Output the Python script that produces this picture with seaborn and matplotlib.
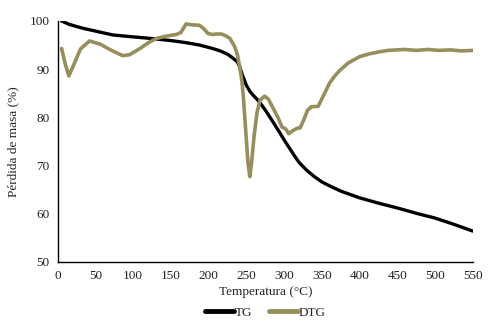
import matplotlib
matplotlib.use("Agg")
import matplotlib.pyplot as plt
import seaborn as sns
import pandas as pd

# TG curve (mass loss)
tg_temp = [5, 15, 33, 50, 73, 100, 122, 152, 170, 188, 205, 215, 225, 232, 238, 241, 245, 250,
           255, 260, 265, 270, 275, 285, 295, 300, 305, 310, 315, 320, 330, 340, 350, 360, 375, 400,
           425, 450, 475, 500, 525, 550]
tg_mass = [100, 99.3, 98.5, 97.9, 97.1, 96.7, 96.4, 95.9, 95.5, 95.0, 94.3, 93.8, 93.1, 92.3, 91.5, 90.5, 88.6, 86.6,
           85.3, 84.4, 83.6, 82.6, 81.5, 79.1, 76.6, 75.3, 74.1, 72.9, 71.7, 70.6, 69.0, 67.7, 66.6, 65.8, 64.7, 63.3,
           62.2, 61.2, 60.1, 59.1, 57.8, 56.4]

# DTG curve
dtg_temp = [5, 10, 14.6, 20, 30, 42, 56, 70, 86, 95, 109, 120, 131, 145, 157, 163, 170, 178, 188, 194, 199, 205,
            210, 217, 223, 228, 234, 238, 241, 244, 246, 248, 250, 252, 254.5, 257, 260, 264, 268, 274, 279,
            285, 292, 297, 302, 306, 312, 318, 321, 326, 331, 336, 345, 352, 360, 367, 374, 385, 400, 413,
            426, 438, 449, 460, 475, 490, 505, 520, 535, 550]
dtg_val = [94.3, 91, 88.6, 90.5, 94.2, 95.85, 95.2, 94.0, 92.8, 93.0, 94.3, 95.5, 96.4, 96.9, 97.2, 97.6, 99.4, 99.2, 99.1, 98.3, 97.4, 97.2,
           97.3, 97.3, 96.9, 96.4, 94.8, 93.0, 90.5, 87.5, 84, 79.5, 75, 70.5, 67.7, 71, 76, 81, 83.6, 84.4, 83.8,
           82.0, 79.9, 78.0, 77.6, 76.6, 77.3, 77.8, 77.8, 79.5, 81.5, 82.2, 82.3, 84.5, 87.1, 88.6, 89.8, 91.3, 92.6, 93.2,
           93.6, 93.9, 94.0, 94.1, 93.9, 94.1, 93.9, 94.0, 93.8, 93.9]

tg = pd.DataFrame({"Temperatura": tg_temp, "Masa": tg_mass})
dtg = pd.DataFrame({"Temperatura": dtg_temp, "Masa": dtg_val})

sns.set_style("white")
plt.rcParams["font.family"] = ["Liberation Serif", "DejaVu Serif"]

fig = plt.figure(figsize=(4.9, 3.23), dpi=100)
ax = fig.add_axes([0.118, 0.189, 0.847, 0.746])

sns.lineplot(data=tg, x="Temperatura", y="Masa", color="black", linewidth=2.4, label="TG", ax=ax)
sns.lineplot(data=dtg, x="Temperatura", y="Masa", color="#968f5c", linewidth=2.6, label="DTG", ax=ax)

ax.set_xlim(0, 550)
ax.set_ylim(50, 100)
ax.set_xticks(range(0, 551, 50))
ax.set_yticks(range(50, 101, 10))
ax.tick_params(length=0, labelsize=9.5, colors="#222222", pad=6)
for s in ["top", "right"]:
    ax.spines[s].set_visible(False)
for s in ["left", "bottom"]:
    ax.spines[s].set_color("black")
    ax.spines[s].set_linewidth(1.0)

ax.set_xlabel("Temperatura (°C)", fontsize=9.5, labelpad=3)
ax.set_ylabel("Pérdida de masa (%)", fontsize=9.5, labelpad=7)

leg = ax.legend(loc="upper center", bbox_to_anchor=(0.5, -0.135), ncol=2, frameon=False,
                fontsize=9.5, handlelength=2.2, handletextpad=0.1, columnspacing=1.2)
for line in leg.get_lines():
    line.set_linewidth(3.5)

fig.savefig("out.png", dpi=100)
